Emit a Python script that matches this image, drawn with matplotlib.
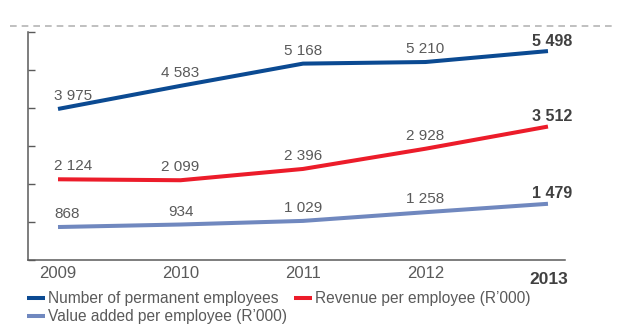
import matplotlib.pyplot as plt
from matplotlib.lines import Line2D

plt.rcParams["font.family"] = ["Liberation Sans", "DejaVu Sans"]

years = ["2009", "2010", "2011", "2012", "2013"]
employees = [3975, 4583, 5168, 5210, 5498]
revenue = [2124, 2099, 2396, 2928, 3512]
value_added = [868, 934, 1029, 1258, 1479]

names = [
    "Number of permanent employees",
    "Revenue per employee (R\u2019000)",
    "Value added per employee (R\u2019000)",
]
colors = ["#0b4a92", "#ec1c2a", "#7088bf"]
text_color = "#5a5a5a"
bold_color = "#404040"

W, H = 619, 329
fig = plt.figure(figsize=(W / 100, H / 100), dpi=100)

# px helpers for the figure-level furniture
def fx(px):
    return px / W

def fy(py):
    return 1 - py / H

ax = fig.add_axes([fx(28), fy(260), 537 / W, 228 / H])
x = list(range(len(years)))
ax.set_xlim(-0.245, 4.139)
ax.set_ylim(0, 6000)

for vals, c in zip([employees, revenue, value_added], colors):
    ax.plot(x, vals, color=c, lw=2.9, solid_capstyle="butt", solid_joinstyle="round")
    for i, v in zip(x, vals):
        txt = f"{v:,}".replace(",", " ")
        last = i == x[-1]
        if i == 0:
            ax.annotate(txt, (i, v), xytext=(-4, 13), textcoords="offset pixels",
                        ha="left", va="center", fontsize=11, color=text_color)
        elif last:
            ax.annotate(txt, (i, v), xytext=(4, 10), textcoords="offset pixels",
                        ha="center", va="center", fontsize=11.5, fontweight="bold",
                        color=bold_color)
        else:
            ax.annotate(txt, (i, v), xytext=(0, 13), textcoords="offset pixels",
                        ha="center", va="center", fontsize=11, color=text_color)

# axes styling
for s in ["top", "right"]:
    ax.spines[s].set_visible(False)
for s in ["left", "bottom"]:
    ax.spines[s].set_color("#5a5a5a")
    ax.spines[s].set_linewidth(1.1)
ax.set_yticks(range(0, 7000, 1000))
ax.set_yticklabels([])
ax.tick_params(axis="y", direction="in", length=5, width=1, color="#5a5a5a")
ax.set_xticks([])

# year labels under the axis
for i, yr in zip(x, years):
    if i == x[-1]:
        ax.annotate(yr, (i, 0), xycoords=("data", "axes fraction"), xytext=(1, -19),
                    textcoords="offset pixels", ha="center", va="center",
                    fontsize=12.5, fontweight="bold", color=bold_color)
    else:
        ax.annotate(yr, (i, 0), xycoords=("data", "axes fraction"), xytext=(0, -13),
                    textcoords="offset pixels", ha="center", va="center",
                    fontsize=12, color=text_color)

# dashed rule along the top
fig.add_artist(Line2D([fx(10), fx(615)], [fy(26), fy(26)], color="#b5b5b5", lw=1.2,
                      linestyle=(0, (4, 3))))

# legend
legend_pos = [(27, 298), (294, 298), (27, 316)]
for (px, py), name, c in zip(legend_pos, names, colors):
    fig.add_artist(Line2D([fx(px), fx(px + 18)], [fy(py), fy(py)], color=c, lw=2.9,
                          solid_capstyle="butt"))
    fig.text(fx(px + 21), fy(py), name, ha="left", va="center", fontsize=11.2,
             color=text_color)

fig.savefig("out.png", dpi=100)
